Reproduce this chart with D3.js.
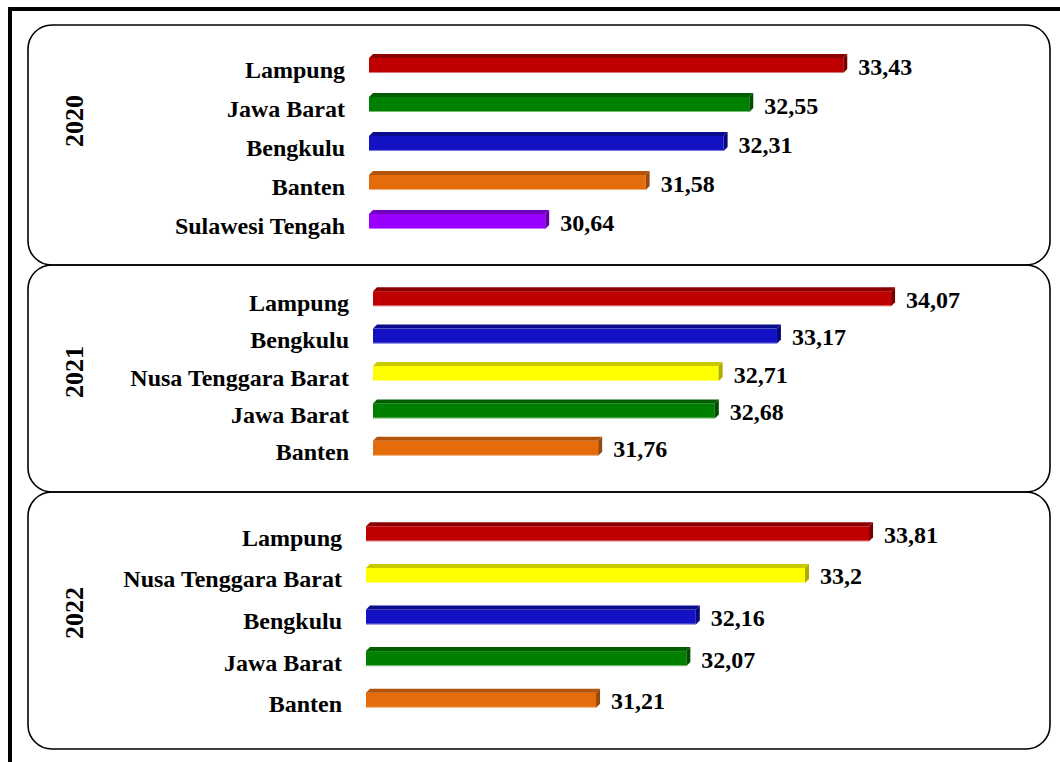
<!DOCTYPE html>
<html>
<head>
<meta charset="utf-8">
<script src="https://cdn.jsdelivr.net/npm/d3@7"></script>
<style>
  body { margin: 0; background: #fff; }
  text { font-family: "Liberation Serif", "Times New Roman", serif; font-weight: bold; fill: #000; }
</style>
</head>
<body>
<script>
// Data
var years = ["2020", "2021", "2022"];
var provinces2020 = ["Lampung", "Jawa Barat", "Bengkulu", "Banten", "Sulawesi Tengah"];
var values2020 = [33.43, 32.55, 32.31, 31.58, 30.64];
var provinces2021 = ["Lampung", "Bengkulu", "Nusa Tenggara Barat", "Jawa Barat", "Banten"];
var values2021 = [34.07, 33.17, 32.71, 32.68, 31.76];
var provinces2022 = ["Lampung", "Nusa Tenggara Barat", "Bengkulu", "Jawa Barat", "Banten"];
var values2022 = [33.81, 33.2, 32.16, 32.07, 31.21];
var axisMin = [29, 30, 29];
var axisMax = [35, 35, 35];

var provinceSets = [provinces2020, provinces2021, provinces2022];
var valueSets = [values2020, values2021, values2022];

// Colours per province: front, top, side
var colors = {
  "Lampung": ["#c00000", "#8c0000", "#7a0000"],
  "Jawa Barat": ["#008000", "#005e00", "#004d00"],
  "Bengkulu": ["#1212c4", "#0b0b8e", "#08087a"],
  "Banten": ["#e46c0a", "#b3530a", "#9a4708"],
  "Sulawesi Tengah": ["#9a00ff", "#7300c2", "#6200a6"],
  "Nusa Tenggara Barat": ["#ffff00", "#c9c900", "#adad00"]
};

// Layout of the three panels (barStart = where bars begin, r0/r1 = scale range)
var panels = [
  {top: 25, bottom: 265, bandTop: 44, bandBottom: 239, barStart: 369, r0: 374, r1: 1015, yearY: 121},
  {top: 265, bottom: 492, bandTop: 278, bandBottom: 465, barStart: 373, r0: 379, r1: 1013, yearY: 372},
  {top: 492, bottom: 749, bandTop: 511, bandBottom: 719, barStart: 366, r0: 368, r1: 998, yearY: 613}
];

var width = 1060, height = 762;
var svg = d3.select("body").append("svg")
            .attr("width", width)
            .attr("height", height);

// Outer thick frame
svg.append("rect")
   .attr("x", 10)
   .attr("y", 9)
   .attr("width", 1100)
   .attr("height", 800)
   .attr("fill", "none")
   .attr("stroke", "#000")
   .attr("stroke-width", 4);

var barH = 19, depth = 4;

panels.forEach(function(p, i) {
  // Rounded panel box
  svg.append("rect")
     .attr("x", 28)
     .attr("y", p.top)
     .attr("width", 1050 - 28)
     .attr("height", p.bottom - p.top)
     .attr("rx", 24)
     .attr("ry", 24)
     .attr("fill", "none")
     .attr("stroke", "#000")
     .attr("stroke-width", 1.6);

  var names = provinceSets[i];
  var vals = valueSets[i];

  var x = d3.scaleLinear()
            .domain([axisMin[i], axisMax[i]])
            .range([p.r0, p.r1]);

  var y = d3.scalePoint()
            .domain(names)
            .range([p.bandTop, p.bandBottom])
            .padding(0.5);

  var g = svg.append("g").attr("class", "panel");

  // Year label
  g.append("text")
   .attr("transform", "translate(83," + p.yearY + ") rotate(-90)")
   .attr("text-anchor", "middle")
   .style("font-size", "26px")
   .text(years[i]);

  var rows = g.selectAll(".row")
              .data(names.map(function(n, j) { return {name: n, value: vals[j]}; }))
              .enter()
              .append("g")
              .attr("class", "row");

  // Category labels
  rows.append("text")
      .attr("x", p.barStart - 24)
      .attr("y", function(d) { return y(d.name) + 14; })
      .attr("text-anchor", "end")
      .style("font-size", "24px")
      .text(function(d) { return d.name; });

  // Front face
  rows.append("rect")
      .attr("x", p.barStart)
      .attr("y", function(d) { return y(d.name) - barH / 2 + depth; })
      .attr("width", function(d) { return x(d.value) - depth - p.barStart; })
      .attr("height", barH - depth)
      .attr("fill", function(d) { return colors[d.name][0]; });

  // Light bottom edge
  rows.append("line")
      .attr("x1", p.barStart)
      .attr("x2", function(d) { return x(d.value) - depth; })
      .attr("y1", function(d) { return y(d.name) + barH / 2 - 0.5; })
      .attr("y2", function(d) { return y(d.name) + barH / 2 - 0.5; })
      .attr("stroke", "#fff")
      .attr("stroke-opacity", 0.45)
      .attr("stroke-width", 1);

  // Top face
  rows.append("path")
      .attr("d", function(d) {
        var t = y(d.name) - barH / 2, xe = x(d.value);
        return "M" + p.barStart + "," + (t + depth) + "L" + (p.barStart + depth) + "," + t +
               "L" + xe + "," + t + "L" + (xe - depth) + "," + (t + depth) + "Z";
      })
      .attr("fill", function(d) { return colors[d.name][1]; });

  // Side face
  rows.append("path")
      .attr("d", function(d) {
        var t = y(d.name) - barH / 2, b = y(d.name) + barH / 2, xe = x(d.value);
        return "M" + (xe - depth) + "," + (t + depth) + "L" + xe + "," + t +
               "L" + xe + "," + (b - depth) + "L" + (xe - depth) + "," + b + "Z";
      })
      .attr("fill", function(d) { return colors[d.name][2]; });

  // Value labels
  rows.append("text")
      .attr("x", function(d) { return x(d.value) + 11; })
      .attr("y", function(d) { return y(d.name) + 11; })
      .style("font-size", "24px")
      .text(function(d) { return String(d.value).replace(".", ","); });
});
</script>
</body>
</html>
